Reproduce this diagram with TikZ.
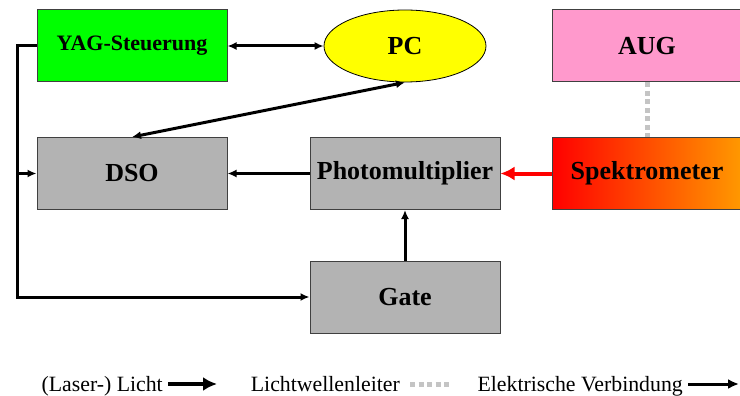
\documentclass[tikz,border=0pt]{standalone}
\usepackage{fontspec}
\setmainfont{Liberation Serif}
\usetikzlibrary{arrows.meta}
\usetikzlibrary{shapes.geometric}
\definecolor{boxgray}{HTML}{B3B3B3}
\definecolor{yaggreen}{HTML}{00FF00}
\definecolor{augpink}{HTML}{FF99CC}
\definecolor{pcyellow}{HTML}{FFFF00}
\definecolor{spekorange}{HTML}{FF9900}
\definecolor{fibergray}{HTML}{C4C4C4}
\definecolor{edgegray}{HTML}{404040}
\tikzset{
	boxstyle/.style={rectangle,draw=edgegray,line width=1pt,minimum width=190pt,minimum height=72pt,inner sep=0pt,font=\fontsize{26}{30}\selectfont\bfseries},
	graystyle/.style={boxstyle,fill=boxgray},
	pcstyle/.style={ellipse,draw=black,line width=0.8pt,fill=pcyellow,minimum width=162pt,minimum height=72pt,inner sep=0pt,font=\fontsize{26}{30}\selectfont\bfseries},
	legendstyle/.style={inner sep=0pt,font=\fontsize{21.8}{25}\selectfont},
	wirestyle/.style={line width=3pt,-{Latex[length=9pt,width=8pt]}},
	lightstyle/.style={line width=4.5pt,-{Latex[length=14pt,width=14pt]}},
	fiberstyle/.style={line width=5pt,draw=fibergray,dash pattern=on 5pt off 3.5pt}
}
\begin{document}
\begin{tikzpicture}[x=1pt,y=-1pt]
	\useasboundingbox (0,0) rectangle (740,396);
	% blocks
	\node[boxstyle,fill=yaggreen,font=\fontsize{22}{26}\selectfont\bfseries] (yag) at (132,46) {YAG-Steuerung};
	\node[pcstyle] (pc) at (405,46) {PC};
	\node[boxstyle,fill=augpink] (aug) at (647,46) {AUG};
	\node[graystyle] (dso) at (132,173.5) {DSO};
	\node[graystyle] (pm) at (405,173.5) {Photomultiplier};
	\node[boxstyle,left color=red,right color=spekorange] (spek) at (647,173.5) {Spektrometer};
	\node[graystyle] (gate) at (405,297) {Gate};
	% trigger line on the left
	\coordinate (bus) at (17,0);
	\draw[wirestyle] (yag.west) -| (bus |- gate.west) -- (gate.west);
	\draw[wirestyle] (bus |- dso.west) -- (dso.west);
	% signal connections
	\draw[wirestyle,{Latex[length=9pt,width=8pt]}-{Latex[length=9pt,width=8pt]}] (yag.east) -- (pc.west);
	\draw[wirestyle,{Latex[length=9pt,width=8pt]}-{Latex[length=9pt,width=8pt]}] (pc.south) -- (dso.north);
	\draw[wirestyle] (pm.west) -- (dso.east);
	\draw[wirestyle] (gate.north) -- (pm.south);
	\draw[lightstyle,red,line width=4pt] (spek.west) -- (pm.east);
	\draw[fiberstyle] (aug.south) -- (spek.north);
	% legend
	\node[legendstyle,anchor=base east] (leglight) at (163,391) {(Laser-) Licht};
	\node[legendstyle,anchor=base east] (legfiber) at (400,391) {Lichtwellenleiter};
	\node[legendstyle,anchor=base east] (legwire) at (683,391) {Elektrische Verbindung};
	\coordinate (lightA) at (168,384);
	\coordinate (lightB) at (217,384);
	\coordinate (fiberA) at (410,384);
	\coordinate (fiberB) at (452,384);
	\coordinate (wireA) at (688,384);
	\coordinate (wireB) at (739,384);
	\draw[lightstyle] (lightA) -- (lightB);
	\draw[fiberstyle] (fiberA) -- (fiberB);
	\draw[wirestyle,-{Latex[length=11pt,width=10pt]}] (wireA) -- (wireB);
\end{tikzpicture}
\end{document}
